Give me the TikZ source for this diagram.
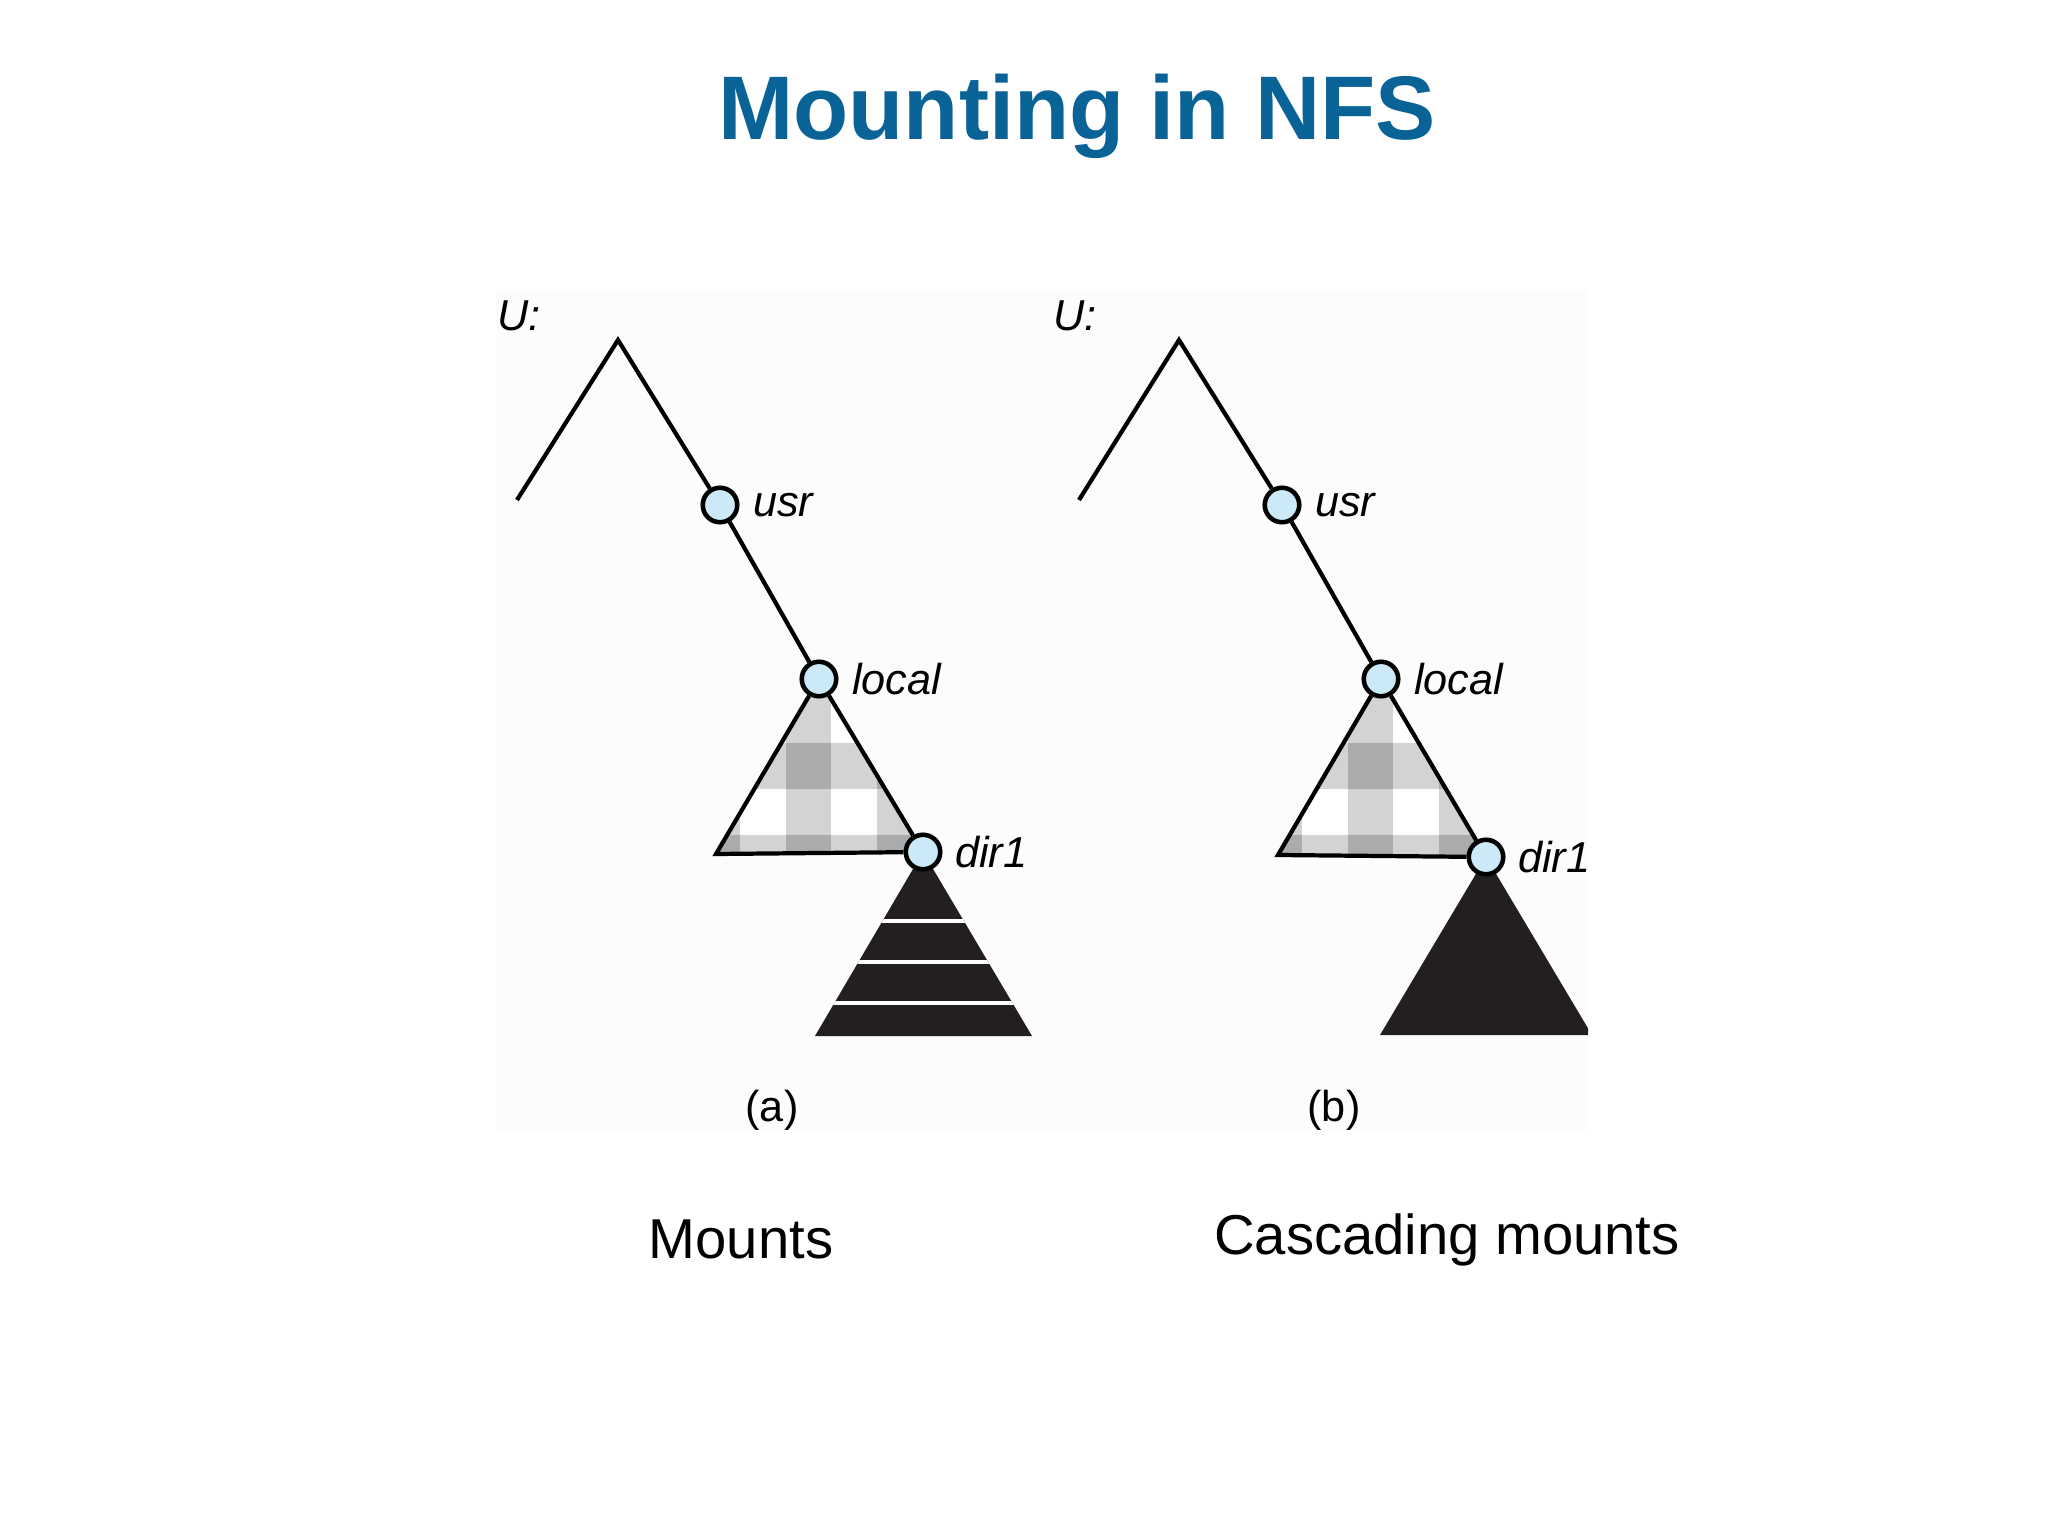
\documentclass[tikz,border=0pt]{standalone}
\usepackage{fontspec}
\setmainfont{Liberation Sans}
\usetikzlibrary{positioning,backgrounds}
\definecolor{titleblue}{RGB}{10,99,150}
\definecolor{dirblue}{RGB}{204,233,248}
\definecolor{plaidlight}{RGB}{210,211,213}
\definecolor{plaiddark}{RGB}{170,171,173}
\definecolor{mountblack}{RGB}{35,31,32}
\definecolor{figbg}{RGB}{252,252,252}

\begin{document}
\begin{tikzpicture}[
    treeline/.style={line width=1.2pt},
    dirnode/.style={circle,draw=black,line width=1.3pt,fill=dirblue,minimum size=0.345cm,inner sep=0pt},
    dirlabel/.style={font=\fontsize{12.3}{14}\selectfont\itshape,inner sep=0pt,anchor=west},
    sublabel/.style={font=\fontsize{12.3}{14}\selectfont,anchor=base},
    caption/.style={font=\fontsize{16}{19}\selectfont,anchor=base},
    stripe/.style={white,line width=0.045cm},
  ]
  \useasboundingbox (0,0) rectangle (20.48,-15.36);

  \node[font=\fontsize{25.7}{30}\selectfont\bfseries,text=titleblue,anchor=base] (title) at (10.77,-1.40) {Mounting in NFS};

  % (a) mounts
  \node[dirlabel] (aU) at (4.97,-3.16) {U:};
  \coordinate (aapex) at (6.18,-3.40);
  \coordinate (aleft) at (5.17,-5.00);
  \coordinate (abase) at (7.16,-8.54);
  \node[dirnode] (ausr) at (7.20,-5.05) {};
  \node[dirnode] (alocal) at (8.19,-6.79) {};
  \node[dirnode] (adir) at (9.23,-8.52) {};
  \node[dirlabel,right=0.13cm of ausr] (ausrl) {usr};
  \node[dirlabel,right=0.13cm of alocal] (alocall) {local};
  \node[dirlabel,right=0.12cm of adir] (adirl) {dir1};
  \draw[treeline] (aleft) -- (aapex) -- (ausr);
  \draw[treeline] (ausr) -- (alocal);
  \draw[treeline] (alocal) -- (adir);
  \draw[treeline] (alocal) -- (abase) -- (adir);

  % (b) cascading mounts
  \node[dirlabel] (bU) at (10.53,-3.16) {U:};
  \coordinate (bapex) at (11.79,-3.40);
  \coordinate (bleft) at (10.79,-5.00);
  \coordinate (bbase) at (12.78,-8.55);
  \node[dirnode] (busr) at (12.82,-5.05) {};
  \node[dirnode] (blocal) at (13.81,-6.79) {};
  \node[dirnode] (bdir) at (14.86,-8.57) {};
  \node[dirlabel,right=0.13cm of busr] (busrl) {usr};
  \node[dirlabel,right=0.13cm of blocal] (blocall) {local};
  \node[dirlabel,right=0.12cm of bdir] (bdirl) {dir1};
  \draw[treeline] (bleft) -- (bapex) -- (busr);
  \draw[treeline] (busr) -- (blocal);
  \draw[treeline] (blocal) -- (bdir);
  \draw[treeline] (blocal) -- (bbase) -- (bdir);

  \node[sublabel] (asub) at (7.72,-11.21) {(a)};
  \node[sublabel] (bsub) at (13.34,-11.21) {(b)};
  \node[caption] (acap) at (7.41,-12.58) {Mounts};
  \node[caption] (bcap) at (14.47,-12.54) {Cascading mounts};

  \begin{scope}[on background layer]
    \fill[white] (0,0) rectangle (20.48,-15.36);
    \fill[figbg] (4.96,-2.90) rectangle (15.88,-11.30);
    % checked subtree under local
    \begin{scope}
      \clip (alocal.center) -- (abase) -- (adir.center) -- cycle;
      \fill[white] (6,-6) rectangle (10,-9);
      \foreach \x in {6.95,7.86,8.77} \fill[plaidlight] (\x,-6.5) rectangle ++(0.45,-2.3);
      \foreach \y in {-7.43,-8.35} \fill[plaidlight] (6.5,\y) rectangle ++(3,-0.46);
      \foreach \x in {6.95,7.86,8.77}
        \foreach \y in {-7.43,-8.35} \fill[plaiddark] (\x,\y) rectangle ++(0.45,-0.46);
    \end{scope}
    \begin{scope}
      \clip (blocal.center) -- (bbase) -- (bdir.center) -- cycle;
      \fill[white] (11.6,-6) rectangle (15.6,-9);
      \foreach \x in {12.57,13.48,14.39} \fill[plaidlight] (\x,-6.5) rectangle ++(0.45,-2.3);
      \foreach \y in {-7.43,-8.35} \fill[plaidlight] (12.1,\y) rectangle ++(3,-0.46);
      \foreach \x in {12.57,13.48,14.39}
        \foreach \y in {-7.43,-8.35} \fill[plaiddark] (\x,\y) rectangle ++(0.45,-0.46);
    \end{scope}
    % mounted subtrees under dir1
    \begin{scope}
      \clip (adir.center) -- (8.15,-10.36) -- (10.32,-10.36) -- cycle;
      \fill[mountblack] (8,-8.4) rectangle (10.5,-10.4);
      \foreach \y in {-9.21,-9.62,-10.03} \draw[stripe] (8,\y) -- (10.5,\y);
    \end{scope}
    \begin{scope}
      \clip (4.96,-2.90) rectangle (15.88,-11.30);
      \fill[mountblack] (bdir.center) -- (13.80,-10.35) -- (15.92,-10.35) -- cycle;
    \end{scope}
  \end{scope}
\end{tikzpicture}
\end{document}
